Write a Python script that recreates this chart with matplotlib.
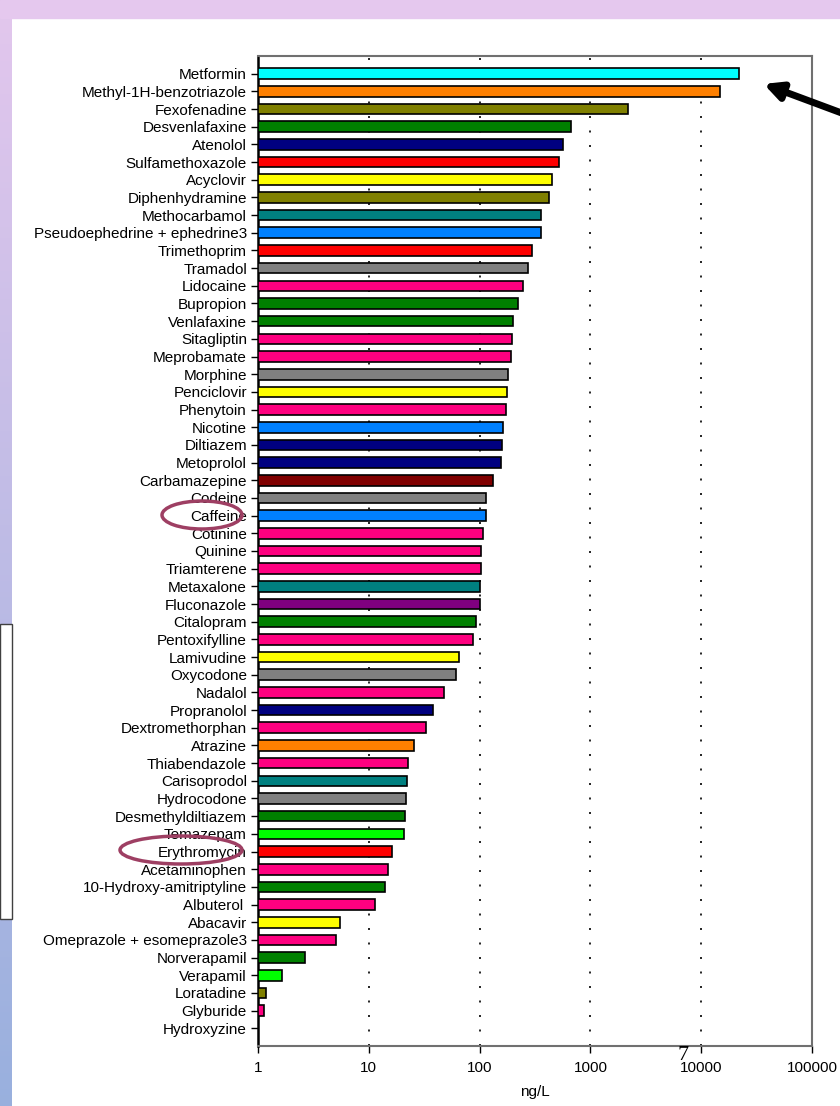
import numpy as np
import matplotlib.pyplot as plt
from matplotlib.patches import Rectangle, Ellipse

plt.rcParams['font.family'] = ['Liberation Sans', 'DejaVu Sans']

drugs = ['Metformin', 'Methyl-1H-benzotriazole', 'Fexofenadine', 'Desvenlafaxine',
         'Atenolol', 'Sulfamethoxazole', 'Acyclovir', 'Diphenhydramine',
         'Methocarbamol', 'Pseudoephedrine + ephedrine3', 'Trimethoprim', 'Tramadol',
         'Lidocaine', 'Bupropion', 'Venlafaxine', 'Sitagliptin', 'Meprobamate',
         'Morphine', 'Penciclovir', 'Phenytoin', 'Nicotine', 'Diltiazem', 'Metoprolol',
         'Carbamazepine', 'Codeine', 'Caffeine', 'Cotinine', 'Quinine', 'Triamterene',
         'Metaxalone', 'Fluconazole', 'Citalopram', 'Pentoxifylline', 'Lamivudine',
         'Oxycodone', 'Nadalol', 'Propranolol', 'Dextromethorphan', 'Atrazine',
         'Thiabendazole', 'Carisoprodol', 'Hydrocodone', 'Desmethyldiltiazem',
         'Temazepam', 'Erythromycin', 'Acetaminophen', '10-Hydroxy-amitriptyline',
         'Albuterol ', 'Abacavir', 'Omeprazole + esomeprazole3', 'Norverapamil',
         'Verapamil', 'Loratadine', 'Glyburide', 'Hydroxyzine']

conc = [21900, 14800, 2180, 668, 565, 520, 450, 423, 357, 355, 297, 273,
        247, 222, 202, 198, 194, 180, 176, 172, 162, 158, 156, 132, 114, 114,
        107, 103, 102, 101, 101, 92, 87, 65, 61, 48, 38, 33, 25.5, 22.6, 22.2,
        21.8, 21.2, 20.6, 16.2, 14.9, 14.0, 11.4, 5.5, 5.06, 2.66, 1.65, 1.18,
        1.13, 0]

colors = ['#00FFFF', '#FF8000', '#808000', '#008000', '#000080', '#FF0000',
          '#FFFF00', '#808000', '#008080', '#0080FF', '#FF0000', '#808080',
          '#FF0080', '#008000', '#008000', '#FF0080', '#FF0080', '#808080',
          '#FFFF00', '#FF0080', '#0080FF', '#000080', '#000080', '#800000',
          '#808080', '#0080FF', '#FF0080', '#FF0080', '#FF0080', '#008080',
          '#800080', '#008000', '#FF0080', '#FFFF00', '#808080', '#FF0080',
          '#000080', '#FF0080', '#FF8000', '#FF0080', '#008080', '#808080',
          '#008000', '#00FF00', '#FF0000', '#FF0080', '#008000', '#FF0080',
          '#FFFF00', '#FF0080', '#008000', '#00FF00', '#808000', '#FF0080',
          '#FF0080']

decades = [1, 10, 100, 1000, 10000, 100000]

fig = plt.figure(figsize=(8.4, 11.06), dpi=100)

# slide background
bg = fig.add_axes([0, 0, 1, 1])
bg.set_xlim(0, 840)
bg.set_ylim(1106, 0)
bg.axis('off')
grad = np.linspace(0, 1, 200)[:, None]
top_c = np.array([0.89, 0.78, 0.93])
bot_c = np.array([0.60, 0.69, 0.87])
img = top_c + (bot_c - top_c) * grad
bg.imshow(img[:, None, :].repeat(2, axis=1), extent=[0, 12, 1106, 0], aspect='auto')
bg.add_patch(Rectangle((0, 0), 840, 18, color='#E5C8EE'))
bg.add_patch(Rectangle((0, 624), 12, 295, facecolor='white', edgecolor='#404040', lw=1))

ax = fig.add_axes([258 / 840, 1 - 1046 / 1106, 554 / 840, 990 / 1106])
y = np.arange(len(drugs))
vals = np.array(conc, dtype=float)
ax.barh(y, np.maximum(vals - 1, 0), left=1, height=0.6, color=colors,
        edgecolor='black', linewidth=1.2, zorder=3)
ax.set_xscale('log')
ax.set_xlim(1, 100000)
ax.set_ylim(len(drugs), -1)
ax.set_yticks(y)
ax.set_yticklabels(drugs, fontsize=11)
ax.set_xticks(decades)
ax.set_xticklabels([str(d) for d in decades], fontsize=11)
ax.xaxis.set_minor_locator(plt.NullLocator())
ax.tick_params(axis='y', length=5, width=1, pad=3)
ax.tick_params(axis='x', length=5, width=1, pad=6)
ax.xaxis.grid(True, linestyle=(0, (1.2, 7.5)), color='black', lw=1.2, zorder=0)
ax.set_axisbelow(True)
for s in ['top', 'right', 'bottom']:
    ax.spines[s].set_color('#707070')
    ax.spines[s].set_linewidth(1.5)
ax.spines['left'].set_color('black')
ax.spines['left'].set_linewidth(1.8)
ax.set_xlabel('ng/L', fontsize=11, labelpad=7)

# overlay: highlights, arrow, page number
ov = fig.add_axes([0, 0, 1, 1])
ov.set_xlim(0, 840)
ov.set_ylim(1106, 0)
ov.axis('off')
ov.patch.set_alpha(0)
ov.add_patch(Ellipse((202, 515), 80, 28, fill=False, edgecolor='#9E3F63', lw=2.5))
ov.add_patch(Ellipse((181, 850), 122, 28, fill=False, edgecolor='#9E3F63', lw=2.5))
ov.annotate('', xy=(761, 83), xytext=(890, 131), annotation_clip=False,
            arrowprops=dict(arrowstyle='-|>', lw=5, mutation_scale=26, color='black'))
ov.text(683, 1056, '7', fontsize=16, family='Liberation Serif', ha='center', va='center')

fig.savefig('out.png', dpi=100)
